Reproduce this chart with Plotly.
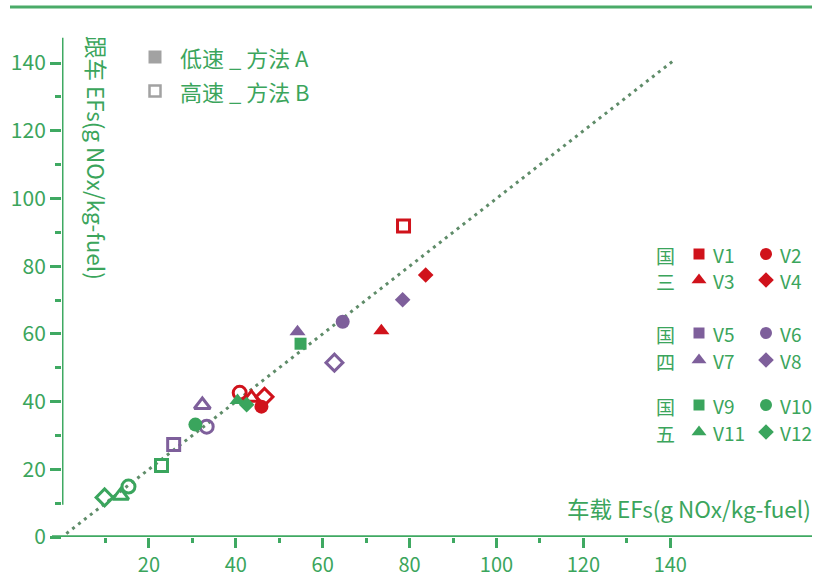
import plotly.graph_objects as go

# ---------------- data ----------------
vehicles = ["V1", "V2", "V3", "V4", "V5", "V6", "V7", "V8", "V9", "V10", "V11", "V12"]
group_of = ["国三"] * 4 + ["国四"] * 4 + ["国五"] * 4
symbols = ["square", "circle", "triangle-up", "diamond"] * 3
# method A (低速) : filled markers
a_x = [None, 45.9, 73.5, 83.7, None, 64.6, 54.2, 78.4, 54.9, 30.7, 40.4, 42.5]
a_y = [None, 38.5, 60.9, 77.4, None, 63.6, 60.6, 70.1, 57.1, 33.2, 40.3, 39.1]
# method B (高速) : open markers
b_x = [78.6, 40.9, 43.6, 46.6, 25.7, 33.3, 32.3, 62.7, 22.9, 15.3, 13.5, 9.8]
b_y = [91.9, 42.6, 41.1, 41.4, 27.3, 32.6, 39.0, 51.5, 21.1, 14.9, 12.2, 11.7]
ref_line = [1, 141]
x_major = [20, 40, 60, 80, 100, 120, 140]
x_minor = [10, 30, 50, 70, 90, 110, 130]
y_major = [0, 20, 40, 60, 80, 100, 120, 140]
y_minor = [10, 30, 50, 70, 90, 110, 130]
x_title = "车载 EFs(g NOx/kg-fuel)"
y_title = "跟车 EFs(g NOx/kg-fuel)"
method_labels = ["低速 _ 方法 A", "高速 _ 方法 B"]

# ---------------- style ----------------
GREEN = "#3ba55c"
LINE_GREEN = "#3fa962"
DOT = "#5f8c69"
GRAY = "#a2a2a2"
group_color = {"国三": "#d0121b", "国四": "#7e5f9b", "国五": "#3aa55d"}
FONT = "Noto Sans CJK SC"

W, H = 830, 579
PX_L, PX_R, PX_T, PX_B = 62, 812, 36, 537      # plot area in window px
ML, MR, MT, MB = PX_L, W - PX_R, PX_T, H - PX_B
PW, PH = PX_R - PX_L, PX_B - PX_T
XSC = 4.345                      # px per unit
x_max = PW / XSC
y_max = 148


def px2paper(px, py):
    return (px - PX_L) / PW, (PX_B - py) / PH


filled_size = {"square": 12, "circle": 14, "triangle-up": 14, "diamond": 12}
open_size = {"square": 12, "circle": 13, "triangle-up": 14, "diamond": 13}

fig = go.Figure()

# 1:1 reference line
fig.add_trace(go.Scatter(x=ref_line, y=ref_line, mode="lines",
                         line=dict(color=DOT, width=3, dash="3px,4.5px"),
                         hoverinfo="skip", showlegend=False))

# open markers (method B)
for v, g, s, x, y in zip(vehicles, group_of, symbols, b_x, b_y):
    fig.add_trace(go.Scatter(x=[x], y=[y], mode="markers", name=v + " B",
                             marker=dict(symbol=s + "-open", size=open_size[s],
                                         color=group_color[g],
                                         line=dict(width=3, color=group_color[g])),
                             showlegend=False, cliponaxis=False))
# filled markers (method A)
for v, g, s, x, y in zip(vehicles, group_of, symbols, a_x, a_y):
    if x is None:
        continue
    fig.add_trace(go.Scatter(x=[x], y=[y], mode="markers", name=v + " A",
                             marker=dict(symbol=s, size=filled_size[s],
                                         color=group_color[g], line=dict(width=0)),
                             showlegend=False, cliponaxis=False))

# ---------------- custom legends (pixel overlay axes) ----------------
annotations = []
# top-left method legend
TL_MX, TL_TX, TL_Y0, TL_DY = 155, 179, 57, 34
fig.add_trace(go.Scatter(x=[TL_MX], y=[TL_Y0], xaxis="x2", yaxis="y2", mode="markers",
                         marker=dict(symbol="square", size=13, color=GRAY),
                         showlegend=False, hoverinfo="skip"))
fig.add_trace(go.Scatter(x=[TL_MX], y=[TL_Y0 + TL_DY], xaxis="x2", yaxis="y2", mode="markers",
                         marker=dict(symbol="square-open", size=11, color=GRAY,
                                     line=dict(width=2.5, color=GRAY)),
                         showlegend=False, hoverinfo="skip"))
for i, lab in enumerate(method_labels):
    annotations.append(dict(x=TL_TX, y=TL_Y0 + i * TL_DY, xref="x2", yref="y2", text=lab,
                            showarrow=False, xanchor="left", yanchor="middle", borderpad=0,
                            font=dict(family=FONT, size=22, color=GREEN)))

# right vehicle legend
row_y = [254, 280, 333, 360, 405, 432]
GX, C1M, C1T, C2M, C2T = 665, 699, 712, 766, 779
legend_sizes = {"square": 11, "circle": 12, "triangle-up": 13, "diamond": 12}
for gi, g in enumerate(["国三", "国四", "国五"]):
    for ci, ch in enumerate(g):
        annotations.append(dict(x=GX, y=row_y[gi * 2 + ci] + 1, xref="x2", yref="y2", text=ch,
                                showarrow=False, xanchor="center", yanchor="middle",
                                borderpad=0,
                                font=dict(family=FONT, size=19, color=GREEN)))
    for k in range(4):
        idx = gi * 4 + k
        ry = row_y[gi * 2 + k // 2]
        mx = C1M if k % 2 == 0 else C2M
        tx = C1T if k % 2 == 0 else C2T
        s = symbols[idx]
        fig.add_trace(go.Scatter(x=[mx], y=[ry], xaxis="x2", yaxis="y2", mode="markers",
                                 marker=dict(symbol=s, size=legend_sizes[s],
                                             color=group_color[g], line=dict(width=0)),
                                 showlegend=False, hoverinfo="skip"))
        annotations.append(dict(x=tx, y=ry, xref="x2", yref="y2", text=vehicles[idx],
                                showarrow=False, xanchor="left", yanchor="middle",
                                borderpad=0,
                                font=dict(family=FONT, size=19, color=GREEN)))

# axis titles
annotations.append(dict(x=812, y=508, xref="x2", yref="y2", text=x_title, showarrow=False,
                        xanchor="right", yanchor="middle", borderpad=0,
                        font=dict(family=FONT, size=22.5, color=GREEN)))
annotations.append(dict(x=97, y=158, xref="x2", yref="y2", text=y_title, showarrow=False,
                        textangle=90, xanchor="center", yanchor="middle", borderpad=0,
                        font=dict(family=FONT, size=22.5, color=GREEN)))

# ---------------- axis lines as shapes ----------------
shapes = []
xa0, _ = px2paper(52, 0)
shapes.append(dict(type="line", xref="paper", yref="y", x0=xa0, x1=1, y0=0, y1=0,
                   line=dict(color=LINE_GREEN, width=3.5)))
shapes.append(dict(type="line", xref="x", yref="y", x0=0, x1=0, y0=y_minor[0] - 0.5, y1=147.5,
                   line=dict(color=LINE_GREEN, width=3)))
tx0, ty = px2paper(10, 7)
shapes.append(dict(type="line", xref="paper", yref="paper", x0=tx0, x1=1, y0=ty, y1=ty,
                   line=dict(color="#4aab68", width=3)))

tickfont = dict(family=FONT, size=21, color=GREEN)
fig.update_layout(
    width=W, height=H, margin=dict(l=ML, r=MR, t=MT, b=MB, autoexpand=False),
    paper_bgcolor="white", plot_bgcolor="white",
    showlegend=False,
    xaxis=dict(range=[0, x_max], showgrid=False, zeroline=False, showline=False,
               tickmode="array", tickvals=x_major, ticks="outside", ticklen=10,
               tickwidth=2.5, tickcolor=LINE_GREEN,
               tickfont=dict(family=FONT, size=20, color=GREEN),
               ticklabelstandoff=0,
               minor=dict(tickvals=x_minor, ticks="outside", ticklen=5, tickwidth=2.5,
                          tickcolor=LINE_GREEN, showgrid=False)),
    yaxis=dict(range=[0, y_max], showgrid=False, zeroline=False, showline=False,
               tickmode="array", tickvals=y_major, ticks="outside", ticklen=11,
               tickwidth=2.5, tickcolor=LINE_GREEN, tickfont=tickfont,
               ticklabelstandoff=0,
               minor=dict(tickvals=y_minor, ticks="outside", ticklen=6, tickwidth=2.5,
                          tickcolor=LINE_GREEN, showgrid=False)),
    xaxis2=dict(range=[PX_L, PX_R], overlaying="x", visible=False, fixedrange=True),
    yaxis2=dict(range=[PX_B, PX_T], overlaying="y", visible=False, fixedrange=True),
    shapes=shapes, annotations=annotations,
)

# remove the default 8px page margin so the figure fills the window exactly
fig.write_html("out.html", config={"displayModeBar": False},
               post_script="document.body.style.margin='0';")
